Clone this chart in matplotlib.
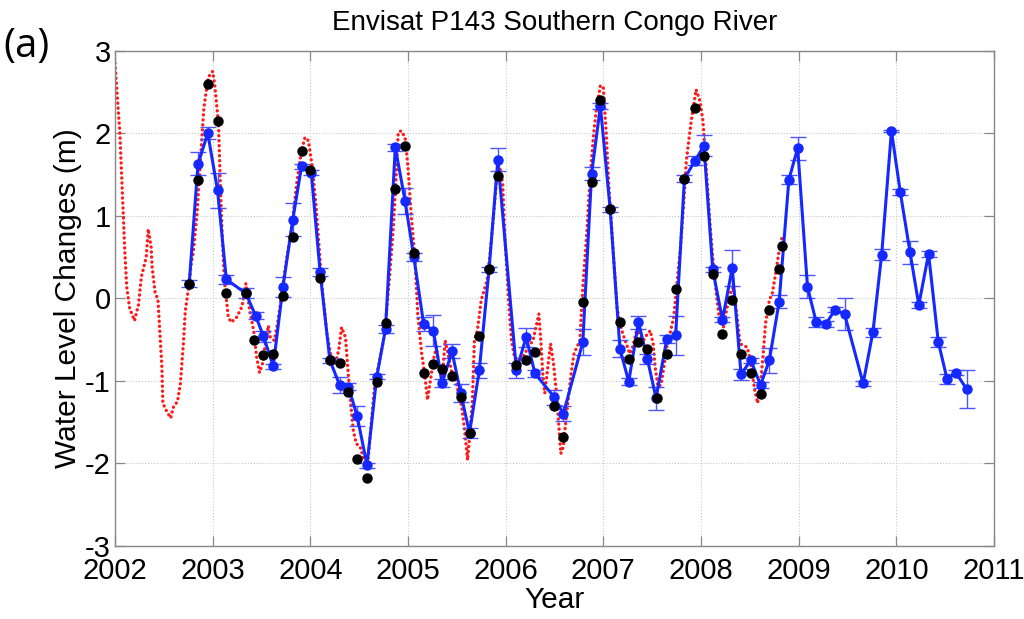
import numpy as np
import matplotlib
matplotlib.use('Agg')
import matplotlib.pyplot as plt

plt.rcParams['font.family'] = ['Liberation Sans', 'DejaVu Sans']
plt.rcParams['axes.unicode_minus'] = False

# gauge / altimetry record (red dots)
red_t = [2002.00, 2002.05, 2002.085, 2002.10, 2002.12, 2002.15, 2002.20, 2002.24, 2002.27, 2002.32,
         2002.34, 2002.37, 2002.38, 2002.41, 2002.44, 2002.46, 2002.48, 2002.49, 2002.53, 2002.57,
         2002.60, 2002.64, 2002.67, 2002.70, 2002.72, 2002.76, 2002.78, 2002.80, 2002.84, 2002.87,
         2002.91, 2002.955, 2003.00, 2003.02, 2003.06, 2003.08, 2003.10, 2003.12, 2003.16, 2003.19,
         2003.245, 2003.30, 2003.34, 2003.38, 2003.42, 2003.45, 2003.48, 2003.51, 2003.54, 2003.57,
         2003.59, 2003.63, 2003.66, 2003.69, 2003.73, 2003.76, 2003.81, 2003.86, 2003.91, 2003.945,
         2003.98, 2004.02, 2004.06, 2004.09, 2004.12, 2004.17, 2004.22, 2004.25, 2004.29, 2004.32,
         2004.36, 2004.38, 2004.41, 2004.44, 2004.47, 2004.51, 2004.54, 2004.58, 2004.60, 2004.63,
         2004.66, 2004.71, 2004.76, 2004.81, 2004.85, 2004.88, 2004.90, 2004.93, 2004.97, 2005.00,
         2005.035, 2005.07, 2005.10, 2005.14, 2005.17, 2005.20, 2005.22, 2005.26, 2005.29, 2005.32,
         2005.35, 2005.38, 2005.41, 2005.45, 2005.48, 2005.51, 2005.55, 2005.58, 2005.61, 2005.63,
         2005.66, 2005.68, 2005.71, 2005.75, 2005.81, 2005.84, 2005.88, 2005.91, 2005.94, 2005.97,
         2005.99, 2006.03, 2006.06, 2006.09, 2006.13, 2006.18, 2006.23, 2006.28, 2006.34, 2006.36,
         2006.38, 2006.40, 2006.44, 2006.46, 2006.49, 2006.52, 2006.55, 2006.565, 2006.59, 2006.62,
         2006.67, 2006.70, 2006.76, 2006.79, 2006.83, 2006.86, 2006.90, 2006.93, 2006.97, 2007.00,
         2007.03, 2007.055, 2007.09, 2007.14, 2007.17, 2007.20, 2007.235, 2007.27, 2007.30, 2007.34,
         2007.37, 2007.41, 2007.44, 2007.48, 2007.51, 2007.53, 2007.56, 2007.59, 2007.61, 2007.65,
         2007.69, 2007.72, 2007.75, 2007.79, 2007.82, 2007.85, 2007.90, 2007.95, 2007.99, 2008.02,
         2008.055, 2008.09, 2008.12, 2008.16, 2008.19, 2008.23, 2008.26, 2008.30, 2008.33, 2008.37,
         2008.40, 2008.43, 2008.47, 2008.49, 2008.52, 2008.55, 2008.58, 2008.61, 2008.64, 2008.66,
         2008.70, 2008.73, 2008.77, 2008.80, 2008.83]
red_h = [2.85, 2.00, 1.02, 0.58, 0.14, -0.12, -0.27, -0.08, 0.26, 0.50,
         0.84, 0.62, 0.38, 0.08, -0.02, -0.43, -0.83, -1.27, -1.37, -1.45,
         -1.31, -1.25, -1.03, -0.55, -0.15, 0.18, 0.42, 0.54, 1.02, 1.59,
         2.31, 2.68, 2.75, 2.60, 2.11, 1.31, 0.70, 0.22, -0.23, -0.29,
         -0.23, -0.10, 0.18, -0.15, -0.39, -0.71, -0.90, -0.79, -0.55, -0.33,
         -0.47, -0.51, -0.33, -0.10, 0.26, 0.50, 0.86, 1.39, 1.79, 1.95,
         1.91, 1.59, 1.10, 0.62, 0.14, -0.43, -0.75, -0.81, -0.63, -0.35,
         -0.47, -0.79, -1.23, -1.60, -1.76, -1.80, -1.92, -2.08, -1.84, -1.44,
         -1.03, -0.75, -0.43, 0.24, 0.86, 1.51, 2.01, 2.03, 1.95, 1.59,
         0.98, 0.50, -0.19, -0.67, -0.91, -1.23, -1.07, -0.75, -0.59, -0.83,
         -0.99, -0.51, -0.67, -0.91, -0.95, -1.11, -1.31, -1.60, -1.96, -1.68,
         -1.23, -0.51, -0.39, -0.02, 0.22, 0.54, 1.06, 1.47, 1.59, 1.39,
         0.78, -0.02, -0.51, -0.71, -0.75, -0.71, -0.59, -0.51, -0.19, -0.51,
         -0.91, -1.15, -0.75, -0.55, -0.79, -1.15, -1.64, -1.88, -1.80, -1.44,
         -0.91, -0.67, -0.51, 0.14, 0.78, 1.39, 1.99, 2.30, 2.58, 2.55,
         1.99, 1.39, 0.78, -0.11, -0.31, -0.43, -0.55, -0.67, -0.59, -0.39,
         -0.43, -0.51, -0.45, -0.39, -0.55, -0.83, -1.07, -1.05, -0.91, -0.59,
         -0.39, -0.23, 0.14, 0.62, 1.10, 1.67, 2.15, 2.53, 2.39, 2.15,
         1.55, 0.94, 0.50, 0.02, -0.27, -0.35, -0.15, 0.06, 0.14, -0.23,
         -0.55, -0.57, -0.59, -0.67, -0.87, -1.11, -1.27, -1.03, -0.63, -0.31,
         -0.02, 0.06, 0.34, 0.58, 0.74]

# Envisat P143 (blue, with error bars)
env_t = [2002.76, 2002.85, 2002.95, 2003.05, 2003.14, 2003.34, 2003.44, 2003.52, 2003.62, 2003.72,
         2003.82, 2003.91, 2004.01, 2004.10, 2004.20, 2004.30, 2004.39, 2004.48, 2004.58, 2004.68,
         2004.77, 2004.87, 2004.97, 2005.06, 2005.16, 2005.26, 2005.35, 2005.45, 2005.54, 2005.63,
         2005.73, 2005.83, 2005.92, 2006.11, 2006.21, 2006.30, 2006.50, 2006.59, 2006.79, 2006.88,
         2006.97, 2007.07, 2007.17, 2007.26, 2007.36, 2007.45, 2007.54, 2007.65, 2007.74, 2007.83,
         2007.94, 2008.03, 2008.12, 2008.22, 2008.32, 2008.41, 2008.51, 2008.61, 2008.70, 2008.80,
         2008.90, 2008.99, 2009.09, 2009.18, 2009.28, 2009.37, 2009.47, 2009.66, 2009.76, 2009.85,
         2009.95, 2010.04, 2010.14, 2010.23, 2010.33, 2010.43, 2010.52, 2010.61, 2010.72]
env_h = [0.18, 1.63, 2.00, 1.31, 0.23, 0.06, -0.21, -0.46, -0.82, 0.14,
         0.95, 1.60, 1.52, 0.32, -0.75, -1.05, -1.07, -1.43, -2.02, -0.95,
         -0.37, 1.83, 1.18, 0.50, -0.31, -0.39, -1.03, -0.64, -1.15, -1.63,
         -0.87, 0.35, 1.68, -0.87, -0.47, -0.91, -1.20, -1.40, -0.53, 1.51,
         2.33, 1.08, -0.61, -1.01, -0.29, -0.73, -1.21, -0.49, -0.45, 1.45,
         1.67, 1.85, 0.35, -0.26, 0.37, -0.92, -0.75, -1.05, -0.75, -0.04,
         1.44, 1.82, 0.14, -0.29, -0.31, -0.14, -0.19, -1.03, -0.41, 0.53,
         2.03, 1.29, 0.56, -0.08, 0.54, -0.53, -0.98, -0.90, -1.10]
env_err = [0.04, 0.14, 0.075, 0.21, 0.05, 0.06, 0.04, 0.07, 0.03, 0.12,
           0.20, 0.03, 0.03, 0.045, 0.03, 0.10, 0.045, 0.12, 0.03, 0.03,
           0.045, 0.04, 0.16, 0.05, 0.08, 0.19, 0.05, 0.085, 0.11, 0.06,
           0.09, 0.03, 0.14, 0.09, 0.115, 0.04, 0.09, 0.09, 0.16, 0.08,
           0.04, 0.03, 0.10, 0.04, 0.08, 0.06, 0.14, 0.05, 0.24, 0.04,
           0.05, 0.13, 0.03, 0.03, 0.22, 0.065, 0.03, 0.04, 0.15, 0.08,
           0.05, 0.14, 0.14, 0.06, 0.04, 0.03, 0.19, 0.03, 0.055, 0.07,
           0.015, 0.035, 0.14, 0.035, 0.035, 0.06, 0.06, 0.03, 0.23]

# black dots
blk_t = [2002.76, 2002.85, 2002.95, 2003.05, 2003.14, 2003.34, 2003.42, 2003.52, 2003.62, 2003.72,
         2003.82, 2003.91, 2004.00, 2004.10, 2004.20, 2004.30, 2004.39, 2004.48, 2004.58, 2004.68,
         2004.77, 2004.87, 2004.97, 2005.06, 2005.16, 2005.26, 2005.35, 2005.45, 2005.54, 2005.63,
         2005.73, 2005.83, 2005.92, 2006.11, 2006.21, 2006.30, 2006.50, 2006.59, 2006.79, 2006.88,
         2006.97, 2007.07, 2007.17, 2007.26, 2007.36, 2007.45, 2007.55, 2007.65, 2007.74, 2007.83,
         2007.94, 2008.03, 2008.12, 2008.22, 2008.32, 2008.41, 2008.51, 2008.61, 2008.70, 2008.80,
         2008.83]
blk_h = [0.17, 1.43, 2.60, 2.15, 0.06, 0.06, -0.50, -0.69, -0.68, 0.03,
         0.74, 1.78, 1.56, 0.25, -0.75, -0.78, -1.13, -1.95, -2.18, -1.01,
         -0.30, 1.33, 1.84, 0.55, -0.91, -0.80, -0.86, -0.94, -1.19, -1.63,
         -0.46, 0.35, 1.48, -0.81, -0.75, -0.65, -1.31, -1.68, -0.04, 1.41,
         2.40, 1.08, -0.29, -0.73, -0.53, -0.61, -1.21, -0.68, 0.11, 1.45,
         2.31, 1.73, 0.30, -0.43, -0.02, -0.68, -0.90, -1.16, -0.14, 0.35,
         0.63]

fig = plt.figure(figsize=(10.24, 6.19), dpi=100)
ax = fig.add_axes([0.1123, 0.118, 0.8584, 0.800])

ax.plot(red_t, red_h, color='#ff1a1a', linestyle=(0, (0.05, 1.45)), linewidth=2.4,
        dash_capstyle='round', zorder=2)
ax.errorbar(env_t, env_h, yerr=env_err, fmt='none', ecolor='#4d55ff', elinewidth=1.0,
            capsize=6, capthick=1.0, zorder=3)
ax.plot(env_t, env_h, '-o', color='#1428ff', linewidth=2.2, markersize=6.5, zorder=4)
ax.plot(blk_t, blk_h, 'o', color='black', markersize=6.5, zorder=5)

ax.set_xlim(2002, 2011)
ax.set_ylim(-3, 3)
ax.set_xticks(np.arange(2002, 2012, 1))
ax.set_yticks(np.arange(-3, 4, 1))
ax.grid(True, linestyle=':', color='#c8c8c8', linewidth=0.8)
ax.tick_params(direction='in', length=7, width=0.9, color='#888888', top=True, right=True,
               labelsize=21)
ax.tick_params(axis='x', pad=8)
ax.tick_params(axis='y', pad=3)
for s in ax.spines.values():
    s.set_color('#888888')
    s.set_linewidth(1.0)

ax.set_xlabel('Year', fontsize=21.5, labelpad=1)
ax.set_ylabel('Water Level Changes (m)', fontsize=21.5, labelpad=2)
ax.set_title('Envisat P143 Southern Congo River', fontsize=20, pad=15)
fig.text(0.026, 0.924, '(a)', fontsize=29, family=['Open Sans', 'DejaVu Sans'],
         ha='center', va='center')

fig.savefig('out.png', dpi=100)
